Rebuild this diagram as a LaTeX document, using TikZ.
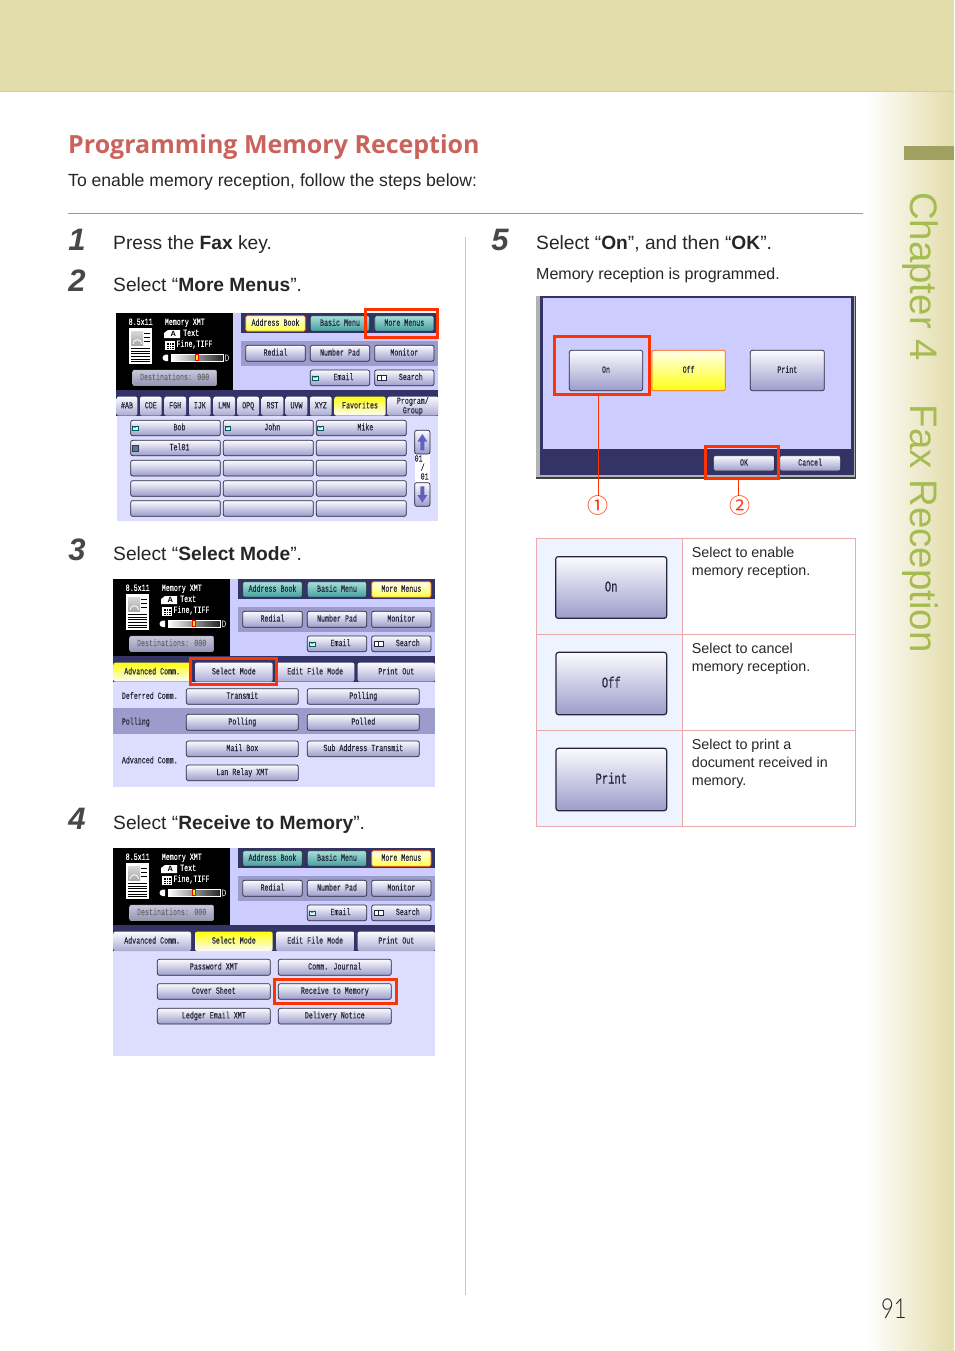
\documentclass[tikz,border=0pt]{standalone}
\usepackage{fontspec}
\usetikzlibrary{calc}
\setmainfont{Liberation Sans}
\newfontfamily\scrfam[FakeStretch=0.7,FakeBold=0.15]{Liberation Mono}
\newfontfamily\titlefam{Open Sans}
\newfontfamily\cjkfam{Noto Sans CJK JP}
\newfontfamily\lightfam[UprightFont=* Light,FakeStretch=0.8]{Lato}
\definecolor{scrnavy}{HTML}{333366}
\definecolor{scrstrip}{HTML}{9C9CCC}
\definecolor{scrlav}{HTML}{CCCCFF}
\definecolor{scrpale}{HTML}{DDDDFF}
\definecolor{mark}{HTML}{FF3300}
\definecolor{band}{HTML}{E3DCAB}
\definecolor{olive}{HTML}{A0A060}
\definecolor{chap}{HTML}{A4BC50}
\definecolor{titlered}{HTML}{C9635B}
\definecolor{pinkline}{HTML}{E8AAAA}
\definecolor{cellblue}{HTML}{EEF4FF}
\definecolor{inkdark}{HTML}{26263A}
\definecolor{tealtop}{HTML}{A8E0DA}
\definecolor{tealbot}{HTML}{459E9E}
\definecolor{desttop}{HTML}{C8C8E0}
\definecolor{destbot}{HTML}{9494B4}
\newcommand\scrfont{\scrfam\fontsize{9.5}{9.5}\selectfont}
\newcommand\scrbig{\scrfam\fontsize{15}{15}\selectfont}
\tikzset{
  scrtext/.style={text height=5.5pt,text depth=1pt},
  scrbase/.style={rectangle,inner sep=0pt,outer sep=0pt,rounded corners=2pt,font=\scrfont,text=inkdark,align=center,scrtext},
  graybtn/.style={scrbase,draw=inkdark,line width=.7pt,top color=white!92!scrlav,bottom color=scrstrip},
  tealbtn/.style={scrbase,draw=inkdark,line width=.7pt,top color=tealtop,bottom color=tealbot},
  yelbtn/.style={scrbase,draw=orange!70!red,line width=.7pt,top color=yellow!8,bottom color=yellow!70},
  destbtn/.style={scrbase,draw=gray!60,line width=.5pt,top color=desttop,bottom color=destbot,text=gray!85!black},
  tabgray/.style={scrbase,top color=white!92!scrlav,bottom color=scrstrip!85!white},
  tabyel/.style={scrbase,top color=yellow!95,bottom color=white!92!scrlav},
  redbox/.style={rectangle,draw=mark,line width=3pt,inner sep=0pt,outer sep=0pt},
  leader/.style={draw=mark,line width=.7pt},
  scrlabel/.style={inner sep=0pt,font=\scrfont,text=inkdark,scrtext},
  panellabel/.style={inner sep=0pt,font=\scrfont,text=white,scrtext},
  body/.style={inner sep=0pt,anchor=base west,font=\fontsize{19.2}{22}\selectfont,text=black!85},
  sub/.style={inner sep=0pt,anchor=base west,font=\fontsize{16}{20}\selectfont,text=black!85},
  num/.style={inner sep=0pt,anchor=base,font=\fontsize{31}{31}\selectfont\bfseries\itshape,text=black!72},
  cell/.style={rectangle,inner sep=0pt,outer sep=0pt,draw=pinkline,line width=.7pt},
  celltext/.style={inner sep=0pt,anchor=north west,align=left,font=\fontsize{14.3}{18}\selectfont,text=black!85},
  bigbtn/.style={graybtn,font=\scrbig,line width=1.2pt,rounded corners=2.5pt,text height=9pt,text depth=1pt},
  mail/.style={draw=teal!70!black,line width=.3pt,fill=cyan!12},
}
\newcommand\scrbtn[7]{%
  \pgfmathsetmacro\bw{(#5-#3)/3}\pgfmathsetmacro\bh{(#6-#4)/3}%
  \node[#1,minimum width=\bw pt,minimum height=\bh pt] (#2) at ({(#3+#5)/2},{(#4+#6)/2}) {#7};}
\newcommand\mailicon[2]{%
  \draw[mail] (#1,#2) rectangle ++(17,13);
  \draw[draw=teal!70!black,line width=.3pt] (#1,#2) -- ++(8.5,7) -- ++(8.5,-7);}
\newcommand\bookicon[2]{%
  \draw[draw=inkdark,line width=.5pt,fill=white] (#1,#2) rectangle ++(13,13);
  \draw[draw=inkdark,line width=.5pt,fill=white] (#1+13,#2) rectangle ++(13,13);}
% header of a screen, in the coordinates of the 3x crop of screen 2
\newcommand\headpanel[4]{%
  \fill[scrlav] (360,13) rectangle (975,243);
  \fill[scrnavy] (384,13) rectangle (975,72);
  \fill[scrstrip] (384,97) rectangle (975,170);
  \fill[black] (10,13) rectangle (360,243);
  \node[panellabel] (#1size) at (83,41) {8.5x11};
  \node[panellabel,anchor=west] (#1mem) at (155,41) {Memory XMT};
  \node[panellabel,anchor=west] (#1txt) at (210,74) {Text};
  \node[panellabel,anchor=west] (#1fine) at (190,107) {Fine,TIFF};
  \fill[white] (47,58) rectangle (118,165);
  \shade[top color=gray!30,bottom color=gray!70] (55,66) rectangle (90,110);
  \draw[white,line width=.8pt] (60,105) arc[start angle=180,end angle=360,radius=13];
  \foreach \yy in {72,85,98}{\draw[black,line width=.7pt] (93,\yy) -- (111,\yy);}
  \foreach \yy in {118,126,134,142,150,158}{\draw[black,line width=.7pt] (54,\yy) -- (111,\yy);}
  \fill[white] (153,72) -- (165,63) -- (201,63) -- (201,87) -- (153,87) -- cycle;
  \node[inner sep=0pt,font=\fontsize{7.5}{7.5}\selectfont\bfseries,text=black] (#1aicon) at (181,75) {A};
  \draw[white,line width=.3pt,fill=black] (155,95) rectangle (182,121);
  \foreach \dd in {6,13,20}{\draw[white,line width=.4pt] (155+\dd,95) -- (155+\dd,121);\draw[white,line width=.4pt] (155,95+\dd) -- (182,95+\dd);}
  \shade[left color=white,right color=black!85,draw=white,line width=.4pt] (174,136) rectangle (330,157);
  \fill[yellow,draw=red,line width=.4pt] (247,137) rectangle (257,155);
  \fill[white] (158,137) -- (165,137) -- (165,156) -- (158,156) arc[start angle=90,end angle=270,radius=9.5];
  \draw[white,line width=.5pt] (338,137) arc[start angle=-90,end angle=90,radius=9.5] -- cycle;
  \scrbtn{#2}{#1addr}{398}{20}{577}{67}{Address Book}
  \scrbtn{#3}{#1basic}{592}{20}{770}{67}{Basic Menu}
  \scrbtn{#4}{#1more}{785}{20}{963}{67}{More Menus}
  \scrbtn{graybtn}{#1redial}{398}{109}{577}{157}{Redial}
  \scrbtn{graybtn}{#1numpad}{592}{109}{770}{157}{Number Pad}
  \scrbtn{graybtn}{#1monitor}{785}{109}{963}{157}{Monitor}
  \scrbtn{graybtn}{#1email}{592}{183}{770}{230}{\hspace*{7pt}Email}
  \scrbtn{graybtn}{#1search}{785}{183}{963}{230}{\hspace*{13pt}Search}
  \scrbtn{destbtn}{#1dest}{59}{183}{311}{230}{Destinations: 000}
  \mailicon{598}{200}
  \bookicon{793}{200}}
\begin{document}
\begin{tikzpicture}[x=1pt,y=-1pt]
\useasboundingbox (0,0) rectangle (954,1351);
\fill[white] (0,0) rectangle (954,1351);
% page furniture
\shade[left color=white,right color=band] (866,92) rectangle (954,1351);
\fill[band] (0,0) rectangle (954,91);
\draw[band!80!brown,line width=1pt] (0,91.5) -- (954,91.5);
\fill[olive] (904,146) rectangle (954,160);
\draw[olive,line width=.7pt] (68,213.5) -- (863,213.5);
\draw[black!22,line width=.7pt] (465.5,237) -- (465.5,1295);
\node[inner sep=0pt,anchor=base west,rotate=-90,font=\fontsize{38.4}{38.4}\selectfont,text=chap] (chapter) at (910,192) {Chapter 4\hspace{1.15em}Fax Reception};
\node[inner sep=0pt,anchor=base west,font=\lightfam\fontsize{27.5}{27.5}\selectfont,text=black!85] (pageno) at (881,1318) {91};
\node[inner sep=0pt,anchor=base west,font=\titlefam\bfseries\fontsize{25}{30}\selectfont,text=titlered] (title) at (68,153.5) {Programming Memory Reception};
\node[inner sep=0pt,anchor=base west,font=\fontsize{17.6}{20}\selectfont,text=black!85] (intro) at (68,186) {To enable memory reception, follow the steps below:};
% steps
\node[num] (n1) at (77,250) {1};
\node[body] (s1) at (113,249) {Press the \textbf{Fax} key.};
\node[num] (n2) at (77,291) {2};
\node[body] (s2) at (113,291) {Select “\textbf{More Menus}”.};
\node[num] (n3) at (77,560) {3};
\node[body] (s3) at (113,560) {Select “\textbf{Select Mode}”.};
\node[num] (n4) at (77,829) {4};
\node[body] (s4) at (113,829) {Select “\textbf{Receive to Memory}”.};
\node[num] (n5) at (500,250) {5};
\node[body] (s5) at (536,249) {Select “\textbf{On}”, and then “\textbf{OK}”.};
\node[sub] (s5b) at (536,279) {Memory reception is programmed.};

% ---------- screen 1
\begin{scope}[shift={(110,305)},x=.33333pt,y=-.33333pt]
  \begin{scope}[shift={(9,12)}]
    \headpanel{a}{yelbtn}{tealbtn}{tealbtn}
  \end{scope}
  \fill[scrnavy] (19,255) rectangle (985,332);
  \fill[scrpale] (20,332) rectangle (985,647);
  \scrbtn{tabgray}{tab1}{20}{275}{82}{332}{\#AB}
  \scrbtn{tabgray}{tab2}{90}{275}{155}{332}{CDE}
  \scrbtn{tabgray}{tab3}{163}{275}{228}{332}{FGH}
  \scrbtn{tabgray}{tab4}{237}{275}{302}{332}{IJK}
  \scrbtn{tabgray}{tab5}{310}{275}{375}{332}{LMN}
  \scrbtn{tabgray}{tab6}{382}{275}{447}{332}{OPQ}
  \scrbtn{tabgray}{tab7}{455}{275}{520}{332}{RST}
  \scrbtn{tabgray}{tab8}{527}{275}{592}{332}{UVW}
  \scrbtn{tabgray}{tab9}{600}{275}{665}{332}{XYZ}
  \scrbtn{tabyel}{tabfav}{673}{275}{827}{332}{Favorites}
  \scrbtn{tabgray,text height=,text depth=}{tabprog}{832}{275}{985}{332}{Program/\\Group}
  \scrbtn{graybtn}{g11}{62}{346}{331}{392}{\hspace*{8pt}Bob}
  \scrbtn{graybtn}{g12}{340}{346}{610}{392}{\hspace*{8pt}John}
  \scrbtn{graybtn}{g13}{619}{346}{889}{392}{\hspace*{8pt}Mike}
  \scrbtn{graybtn}{g21}{62}{406}{331}{452}{\hspace*{8pt}Tel01}
  \scrbtn{graybtn}{g22}{340}{406}{610}{452}{}
  \scrbtn{graybtn}{g23}{619}{406}{889}{452}{}
  \scrbtn{graybtn}{g31}{62}{466}{331}{513}{}
  \scrbtn{graybtn}{g32}{340}{466}{610}{513}{}
  \scrbtn{graybtn}{g33}{619}{466}{889}{513}{}
  \scrbtn{graybtn}{g41}{62}{527}{331}{574}{}
  \scrbtn{graybtn}{g42}{340}{527}{610}{574}{}
  \scrbtn{graybtn}{g43}{619}{527}{889}{574}{}
  \scrbtn{graybtn}{g51}{62}{587}{331}{634}{}
  \scrbtn{graybtn}{g52}{340}{587}{610}{634}{}
  \scrbtn{graybtn}{g53}{619}{587}{889}{634}{}
  \mailicon{66}{362}\mailicon{344}{362}\mailicon{622}{362}
  \draw[draw=scrnavy,line width=.4pt,fill=gray!70!teal] (68,422) rectangle ++(16,16);
  \fill[white] (914,447) rectangle (960,533);
  \node[scrlabel] (pga) at (926,463) {01};
  \node[scrlabel] (pgb) at (938,490) {/};
  \node[scrlabel] (pgc) at (944,517) {01};
  \scrbtn{graybtn}{upbtn}{914}{376}{960}{447}{}
  \scrbtn{graybtn}{downbtn}{914}{533}{960}{604}{}
  \fill[blue!45!scrnavy!70!white] (937,387) -- (952,410) -- (943,410) -- (943,436) -- (931,436) -- (931,410) -- (922,410) -- cycle;
  \fill[blue!45!scrnavy!70!white] (937,593) -- (952,570) -- (943,570) -- (943,544) -- (931,544) -- (931,570) -- (922,570) -- cycle;
  \scrbtn{redbox}{red1}{767}{13}{981}{96}{}
\end{scope}

% ---------- screen 2
\begin{scope}[shift={(110,575)},x=.33333pt,y=-.33333pt]
  \headpanel{b}{tealbtn}{tealbtn}{yelbtn}
  \fill[scrnavy] (10,243) rectangle (975,320);
  \fill[scrpale] (10,320) rectangle (975,636);
  \fill[scrstrip] (10,400) rectangle (975,478);
  \scrbtn{tabyel}{btab1}{10}{263}{243}{320}{Advanced Comm.}
  \scrbtn{tabgray}{btab2}{255}{263}{488}{320}{Select Mode}
  \scrbtn{tabgray}{btab3}{498}{263}{733}{320}{Edit File Mode}
  \scrbtn{tabgray}{btab4}{743}{263}{975}{320}{Print Out}
  \node[scrlabel,anchor=west] (lab1) at (35,365) {Deferred Comm.};
  \node[scrlabel,anchor=west] (lab2) at (35,442) {Polling};
  \node[scrlabel,anchor=west] (lab3) at (35,558) {Advanced Comm.};
  \scrbtn{graybtn}{bb1}{229}{341}{565}{388}{Transmit}
  \scrbtn{graybtn}{bb2}{592}{341}{928}{388}{Polling}
  \scrbtn{graybtn}{bb3}{229}{418}{565}{466}{Polling}
  \scrbtn{graybtn}{bb4}{592}{418}{928}{466}{Polled}
  \scrbtn{graybtn}{bb5}{229}{498}{565}{545}{Mail Box}
  \scrbtn{graybtn}{bb6}{592}{498}{928}{545}{Sub Address Transmit}
  \scrbtn{graybtn}{bb7}{229}{570}{565}{617}{Lan Relay XMT}
  \scrbtn{redbox}{red2}{242}{250}{499}{329}{}
\end{scope}

% ---------- screen 3
\begin{scope}[shift={(110,845)},x=.33333pt,y=-.33333pt]
  \begin{scope}[shift={(0,-3)}]
    \headpanel{c}{tealbtn}{tealbtn}{yelbtn}
  \end{scope}
  \fill[scrnavy] (10,240) rectangle (975,318);
  \fill[scrpale] (10,318) rectangle (975,633);
  \scrbtn{tabgray}{ctab1}{10}{260}{243}{318}{Advanced Comm.}
  \scrbtn{tabyel}{ctab2}{255}{260}{488}{318}{Select Mode}
  \scrbtn{tabgray}{ctab3}{498}{260}{733}{318}{Edit File Mode}
  \scrbtn{tabgray}{ctab4}{743}{260}{975}{318}{Print Out}
  \scrbtn{graybtn}{cb1}{142}{343}{481}{391}{Password XMT}
  \scrbtn{graybtn}{cb2}{505}{343}{844}{391}{Comm. Journal}
  \scrbtn{graybtn}{cb3}{142}{416}{481}{463}{Cover Sheet}
  \scrbtn{graybtn}{cb4}{505}{416}{844}{463}{Receive to Memory}
  \scrbtn{graybtn}{cb5}{142}{490}{481}{537}{Ledger Email XMT}
  \scrbtn{graybtn}{cb6}{505}{490}{844}{537}{Delivery Notice}
  \scrbtn{redbox}{red3}{494}{404}{859}{475}{}
\end{scope}

% ---------- screen 5
\begin{scope}[shift={(530,290)},x=.33333pt,y=-.33333pt]
  \fill[black!75] (18,18) rectangle (978,568);
  \fill[gray!60] (18,18) rectangle (974,562);
  \fill[scrnavy] (30,18) rectangle (972,555);
  \fill[scrlav] (38,25) rectangle (964,476);
  \scrbtn{graybtn}{on}{118}{181}{338}{302}{On}
  \scrbtn{yelbtn,bottom color=yellow!92}{off}{366}{181}{586}{302}{Off}
  \scrbtn{graybtn}{print}{661}{181}{883}{302}{Print}
  \scrbtn{graybtn}{ok}{550}{497}{734}{543}{OK}
  \scrbtn{graybtn}{cancel}{749}{497}{932}{543}{Cancel}
  \scrbtn{redbox}{redon}{73}{140}{358}{313}{}
  \scrbtn{redbox}{redok}{527}{470}{745}{565}{}
  \node[inner sep=0pt,font=\cjkfam\fontsize{21}{21}\selectfont,text=mark] (c1) at (205,647) {①};
  \node[inner sep=0pt,font=\cjkfam\fontsize{21}{21}\selectfont,text=mark] (c2) at (630,647) {②};
  \draw[leader] (c1.north |- redon.south) -- (c1.north);
  \draw[leader] ($(c2.north |- redok.south)+(-5,0)$) -- ($(c2.north)+(-5,0)$);
\end{scope}

% ---------- table
\begin{scope}[shift={(530,530)},x=.33333pt,y=-.33333pt]
  \scrbtn{cell,fill=cellblue}{t11}{20}{25}{458}{313}{}
  \scrbtn{cell}{t12}{458}{25}{977}{313}{}
  \scrbtn{cell,fill=cellblue}{t21}{20}{313}{458}{601}{}
  \scrbtn{cell}{t22}{458}{313}{977}{601}{}
  \scrbtn{cell,fill=cellblue}{t31}{20}{601}{458}{889}{}
  \scrbtn{cell}{t32}{458}{601}{977}{889}{}
  \scrbtn{bigbtn}{ton}{77}{80}{410}{265}{On}
  \scrbtn{bigbtn}{toff}{78}{367}{410}{554}{Off}
  \scrbtn{bigbtn}{tprint}{78}{655}{410}{842}{Print}
  \node[celltext] (d1) at (485,52) {Select to enable\\memory reception.};
  \node[celltext] (d2) at (485,340) {Select to cancel\\memory reception.};
  \node[celltext] (d3) at (485,628) {Select to print a\\document received in\\memory.};
\end{scope}
\end{tikzpicture}
\end{document}
